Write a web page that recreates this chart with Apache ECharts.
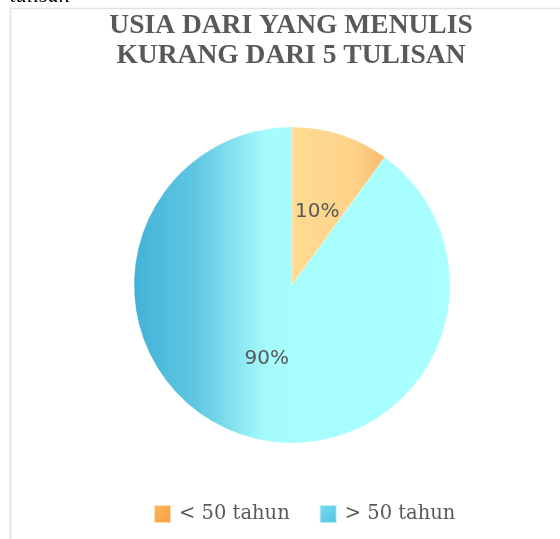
<!DOCTYPE html>
<html><head><meta charset="utf-8">
<script src="https://cdn.jsdelivr.net/npm/echarts@6/dist/echarts.min.js"></script>
<style>html,body{margin:0;padding:0;background:#fff}#c{width:560px;height:539px}</style>
</head><body><div id="c"></div>
<script>
const categories = ['< 50 tahun', '> 50 tahun'];
const values = [10, 90];
const titleText = 'USIA DARI YANG MENULIS\nKURANG DARI 5 TULISAN';

const chart = echarts.init(document.getElementById('c'));
const orange = new echarts.graphic.LinearGradient(0, 0, 1, 0, [
  {offset: 0, color: '#FFDB92'}, {offset: 0.65, color: '#FDD389'}, {offset: 1, color: '#F7BD70'}]);
const cyan = new echarts.graphic.LinearGradient(134, 0, 450, 0, [
  {offset: 0, color: '#43B2D7'}, {offset: 0.2, color: '#60C8E2'}, {offset: 0.42, color: '#A6FBFC'}, {offset: 1, color: '#A9FFFF'}], true);
const colors = [orange, cyan];
const legendColors = [
  new echarts.graphic.LinearGradient(0, 0, 1, 1, [{offset: 0, color: '#FBB862'}, {offset: 1, color: '#F79E3C'}]),
  new echarts.graphic.LinearGradient(0, 0, 1, 1, [{offset: 0, color: '#7ADBEF'}, {offset: 1, color: '#4EC4E2'}])
];

chart.setOption({
  animation: false,
  backgroundColor: '#fff',
  graphic: [
    {type: 'rect', shape: {x: 10.5, y: 8.5, width: 600, height: 600}, style: {fill: 'none', stroke: '#e2e2e2', lineWidth: 1.5}, silent: true},
    {type: 'text', left: 10, top: -15, style: {text: 'tulisan', font: 'italic 22px "Liberation Serif"', fill: '#000'}}
  ],
  title: {
    text: titleText, left: 286, top: 6, textAlign: 'center',
    textStyle: {fontFamily: 'Liberation Serif', fontWeight: 'bold', fontSize: 27.5, color: '#595959', lineHeight: 30, align: 'center'}
  },
  legend: {
    bottom: 10, left: 148, itemWidth: 17, itemHeight: 18, itemGap: 29,
    icon: 'rect',
    textStyle: {fontFamily: 'DejaVu Serif', fontSize: 19.5, color: '#595959', padding: [0,0,0,3]},
    data: categories.map((c, i) => ({name: c, itemStyle: {color: legendColors[i]}}))
  },
  series: [{
    type: 'pie', center: [292, 285], radius: 158, startAngle: 90, clockwise: true,
    label: {show: true, position: 'inside', formatter: '{d}%', fontFamily: 'DejaVu Sans', fontSize: 20, color: '#595959'},
    labelLine: {show: false},
    itemStyle: {borderColor: 'rgba(255,255,255,0.6)', borderWidth: 0.5},
    emphasis: {disabled: true},
    data: categories.map((c, i) => ({name: c, value: values[i], itemStyle: {color: colors[i]},
      label: {offset: i === 0 ? [0, 5] : [0, -4]}}))
  }]
});
</script></body></html>
